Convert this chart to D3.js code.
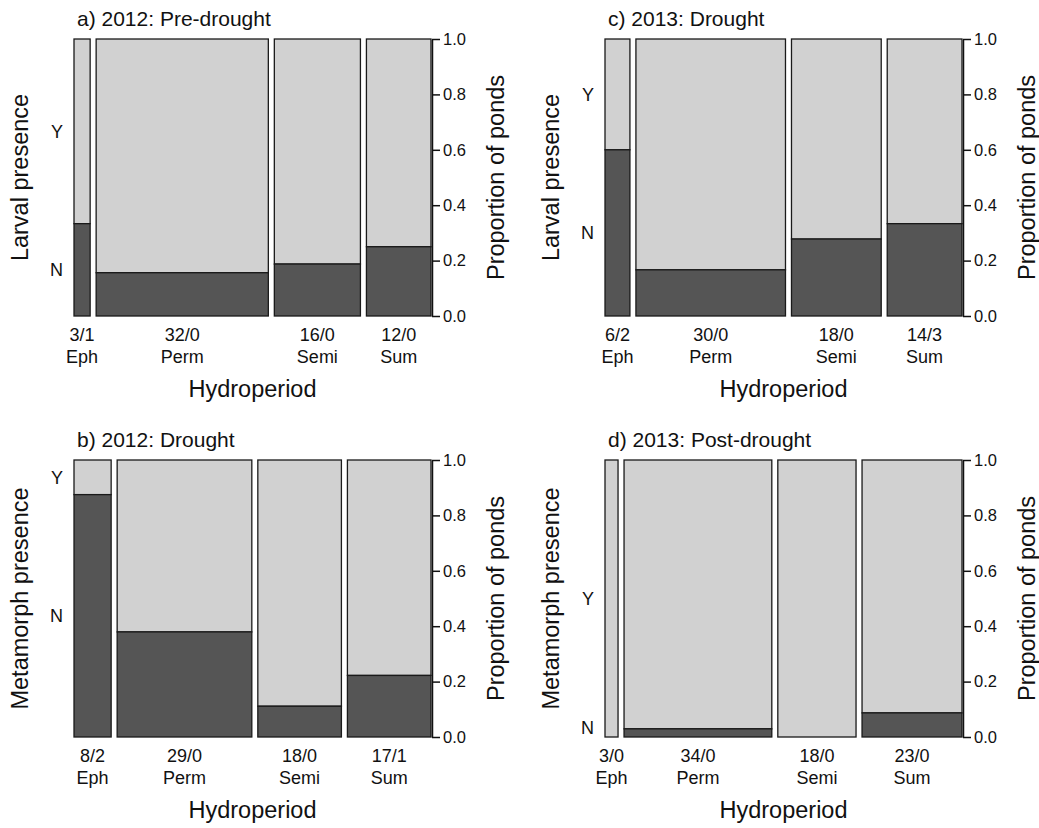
<!DOCTYPE html>
<html>
<head>
<meta charset="utf-8">
<script src="https://cdn.jsdelivr.net/npm/d3@7"></script>
<style>
  body { margin: 0; background: #fff; }
  svg text { font-family: "Liberation Sans", Arial, sans-serif; fill: #111; }
</style>
</head>
<body>
<div id="chart"></div>
<script>
// hydroperiod classes (x categories)
var hydro = ["Eph", "Perm", "Semi", "Sum"];
var yLevels = ["N", "Y"];
var propTicks = [0, 0.2, 0.4, 0.6, 0.8, 1.0];

// a) 2012 pre-drought, larvae: ponds per class, ponds with no larvae, count labels
var preTotal = [3, 32, 16, 12];
var preNo    = [1, 5, 3, 3];
var preLab   = ["3/1", "32/0", "16/0", "12/0"];

// b) 2012 drought, metamorphs
var dr12Total = [8, 29, 18, 18];
var dr12No    = [7, 11, 2, 4];
var dr12Lab   = ["8/2", "29/0", "18/0", "17/1"];

// c) 2013 drought, larvae
var dr13Total = [5, 30, 18, 15];
var dr13No    = [3, 5, 5, 5];
var dr13Lab   = ["6/2", "30/0", "18/0", "14/3"];

// d) 2013 post-drought, metamorphs
var postTotal = [3, 34, 18, 23];
var postNo    = [0, 1, 0, 2];
var postLab   = ["3/0", "34/0", "18/0", "23/0"];

var lightCol = "#d1d1d1", darkCol = "#555555";

var svg = d3.select("#chart").append("svg")
    .attr("width", 1039)
    .attr("height", 828);

function spine(opt) {
  var left = opt.left, top = opt.top, width = 357, height = 277, gap = 6;
  var g = svg.append("g").attr("transform", "translate(" + left + "," + top + ")");

  var total = d3.sum(opt.total);
  var x = d3.scaleLinear().domain([0, total]).range([0, width - gap * (opt.total.length - 1)]);
  var y = d3.scaleLinear().domain([0, 1]).range([height, 0]);

  // build bar table
  var cum = 0;
  var bars = opt.total.map(function(n, i) {
    var b = { cat: hydro[i], n: n, pN: opt.no[i] / n, lab: opt.lab[i],
              x0: x(cum) + i * gap, x1: x(cum + n) + i * gap };
    cum += n;
    return b;
  });

  var bg = g.selectAll(".bar").data(bars).enter().append("g").attr("class", "bar");
  // Y part (top)
  bg.append("rect")
    .attr("x", function(d) { return d.x0; })
    .attr("y", y(1))
    .attr("width", function(d) { return d.x1 - d.x0; })
    .attr("height", function(d) { return y(d.pN) - y(1); })
    .style("fill", lightCol).style("stroke", "#1a1a1a").style("stroke-width", 1.3);
  // N part (bottom)
  bg.filter(function(d) { return d.pN > 0; }).append("rect")
    .attr("x", function(d) { return d.x0; })
    .attr("y", function(d) { return y(d.pN); })
    .attr("width", function(d) { return d.x1 - d.x0; })
    .attr("height", function(d) { return height - y(d.pN); })
    .style("fill", darkCol).style("stroke", "#1a1a1a").style("stroke-width", 1.3);

  // count labels and class names under the bars
  bg.append("text")
    .attr("x", function(d) { return (d.x0 + d.x1) / 2; })
    .attr("y", height + 25)
    .attr("text-anchor", "middle")
    .style("font-size", "18px")
    .text(function(d) { return d.lab; });
  bg.append("text")
    .attr("x", function(d) { return (d.x0 + d.x1) / 2; })
    .attr("y", height + 47)
    .attr("text-anchor", "middle")
    .style("font-size", "18px")
    .text(function(d) { return d.cat; });

  // right proportion axis
  var ax = g.append("g")
    .attr("transform", "translate(" + (width + 1) + ",0)")
    .call(d3.axisRight(y).tickValues(propTicks).tickFormat(d3.format(".1f"))
      .tickSize(8).tickSizeOuter(0).tickPadding(3));
  ax.selectAll("path, line").style("stroke", "#111").style("stroke-width", 1.5);
  ax.selectAll("text").style("font-size", "16.5px").style("fill", "#111")
    .style("font-family", "'Liberation Sans', Arial, sans-serif");

  // left N / Y labels at the middle of the first bar's pieces
  var p0 = bars[0].pN;
  var mids = [p0 / 2, (1 + p0) / 2].map(function(v) { return Math.max(0.035, Math.min(0.965, v)); });
  g.selectAll(".ylev").data(yLevels).enter().append("text")
    .attr("x", -11)
    .attr("y", function(d, i) { return y(mids[i]); })
    .attr("dy", "0.35em")
    .attr("text-anchor", "end")
    .style("font-size", "18px")
    .text(function(d) { return d; });

  // panel title
  g.append("text")
    .attr("x", 3).attr("y", -13)
    .style("font-size", "21px")
    .text(opt.title);

  // axis titles
  g.append("text")
    .attr("text-anchor", "middle")
    .attr("transform", "translate(" + (-46) + "," + (height / 2) + ") rotate(-90)")
    .style("font-size", "23.5px")
    .text(opt.ylab);
  g.append("text")
    .attr("text-anchor", "middle")
    .attr("transform", "translate(" + (width + 73) + "," + (height / 2) + ") rotate(-90)")
    .style("font-size", "23.5px")
    .text("Proportion of ponds");
  g.append("text")
    .attr("x", width / 2).attr("y", height + 81)
    .attr("text-anchor", "middle")
    .style("font-size", "23.5px")
    .text("Hydroperiod");
}

spine({ left: 74, top: 39, total: preTotal, no: preNo, lab: preLab,
        title: "a) 2012: Pre-drought", ylab: "Larval presence" });
spine({ left: 605, top: 39, total: dr13Total, no: dr13No, lab: dr13Lab,
        title: "c) 2013: Drought", ylab: "Larval presence" });
spine({ left: 74, top: 460, total: dr12Total, no: dr12No, lab: dr12Lab,
        title: "b) 2012: Drought", ylab: "Metamorph presence" });
spine({ left: 605, top: 460, total: postTotal, no: postNo, lab: postLab,
        title: "d) 2013: Post-drought", ylab: "Metamorph presence" });
</script>
</body>
</html>
